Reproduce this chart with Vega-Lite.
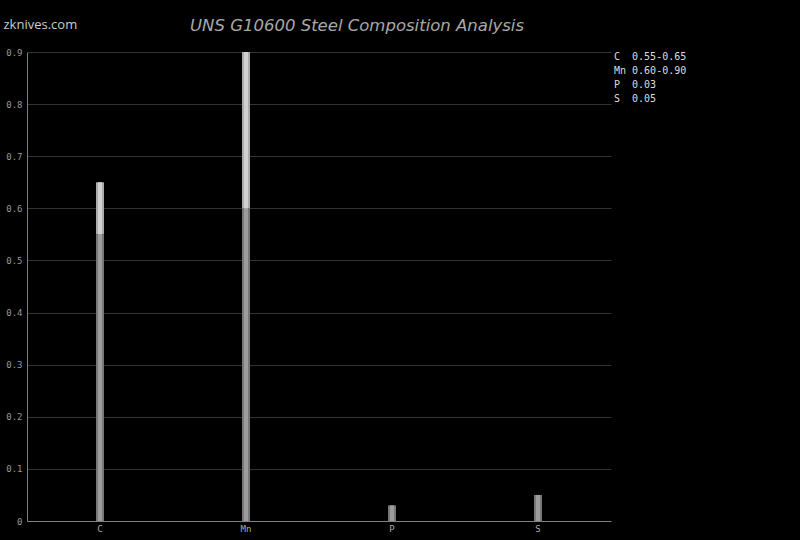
{
  "$schema": "https://vega.github.io/schema/vega-lite/v6.json",
  "autosize": "none",
  "width": 584,
  "height": 469,
  "padding": {"left": 27, "top": 52, "right": 189, "bottom": 19},
  "background": "#000000",
  "config": {"view": {"stroke": null}},
  "title": {
    "text": "UNS G10600 Steel Composition Analysis",
    "anchor": "start",
    "dx": 187,
    "offset": -16,
    "font": "DejaVu Sans",
    "fontSize": 16.5,
    "fontStyle": "italic",
    "fontWeight": "normal",
    "color": "#a8a8a8"
  },
  "data": {
    "values": [
      {"el": "C", "seg": "min", "lo": 0, "hi": 0.55, "leg": "C\u00a0\u00a00.55-0.65"},
      {"el": "C", "seg": "range", "lo": 0.55, "hi": 0.65, "leg": "C\u00a0\u00a00.55-0.65"},
      {"el": "Mn", "seg": "min", "lo": 0, "hi": 0.6, "leg": "Mn\u00a00.60-0.90"},
      {"el": "Mn", "seg": "range", "lo": 0.6, "hi": 0.9, "leg": "Mn\u00a00.60-0.90"},
      {"el": "P", "seg": "min", "lo": 0, "hi": 0.03, "leg": "P\u00a0\u00a00.03"},
      {"el": "S", "seg": "min", "lo": 0, "hi": 0.05, "leg": "S\u00a0\u00a00.05"}
    ]
  },
  "encoding": {
    "x": {
      "field": "el",
      "type": "nominal",
      "sort": ["C", "Mn", "P", "S"],
      "scale": {"paddingInner": 0, "paddingOuter": 0},
      "axis": {
        "title": null,
        "labelAngle": 0,
        "labelFont": "DejaVu Sans Mono",
        "labelFontSize": 9,
        "labelColor": "#aaaaaa",
        "labelPadding": 3,
        "ticks": false,
        "domainColor": "#808080",
        "grid": false
      }
    },
    "y": {
      "field": "lo",
      "type": "quantitative",
      "scale": {"domain": [0, 0.9], "nice": false},
      "axis": {
        "title": "zknives.com",
        "titleAngle": 0,
        "titleX": -24,
        "titleY": -24,
        "titleAlign": "left",
        "titleBaseline": "alphabetic",
        "titleFont": "Open Sans",
        "titleFontSize": 13,
        "titleFontWeight": "normal",
        "titleColor": "#cccccc",
        "values": [0, 0.1, 0.2, 0.3, 0.4, 0.5, 0.6, 0.7, 0.8, 0.9],
        "labelExpr": "datum.value === 0 ? '0' : format(datum.value, '.1f')",
        "labelFont": "DejaVu Sans Mono",
        "labelFontSize": 9,
        "labelColor": "#999999",
        "labelPadding": 5,
        "ticks": false,
        "domainColor": "#808080",
        "gridColor": "#333333",
        "gridWidth": 1
      }
    },
    "y2": {"field": "hi"}
  },
  "layer": [
    {
      "mark": {"type": "bar", "size": 8, "opacity": 0},
      "encoding": {
        "color": {
          "field": "leg",
          "type": "nominal",
          "scale": {
            "domain": ["C\u00a0\u00a00.55-0.65", "Mn\u00a00.60-0.90", "P\u00a0\u00a00.03", "S\u00a0\u00a00.05"],
            "range": ["#000000", "#000000", "#000000", "#000000"]
          },
          "legend": {
            "title": null,
            "orient": "none",
            "legendX": 577,
            "legendY": 0,
            "symbolSize": 0,
            "symbolStrokeWidth": 0,
            "symbolOpacity": 0,
            "labelOffset": 0,
            "labelFont": "DejaVu Sans Mono",
            "labelFontSize": 10,
            "labelColor": "#dddddd",
            "rowPadding": 4
          }
        }
      }
    },
    {
      "mark": {"type": "bar", "size": 8},
      "encoding": {
        "color": {
          "field": "seg",
          "type": "nominal",
          "scale": {"domain": ["min", "range"], "range": ["#777777", "#aaaaaa"]},
          "legend": null
        }
      }
    },
    {
      "mark": {"type": "bar", "size": 4},
      "encoding": {
        "fill": {
          "field": "seg",
          "type": "nominal",
          "scale": {"domain": ["min", "range"], "range": ["#9c9c9c", "#d0d0d0"]},
          "legend": null
        }
      }
    }
  ],
  "resolve": {"scale": {"color": "independent", "fill": "independent"}}
}
